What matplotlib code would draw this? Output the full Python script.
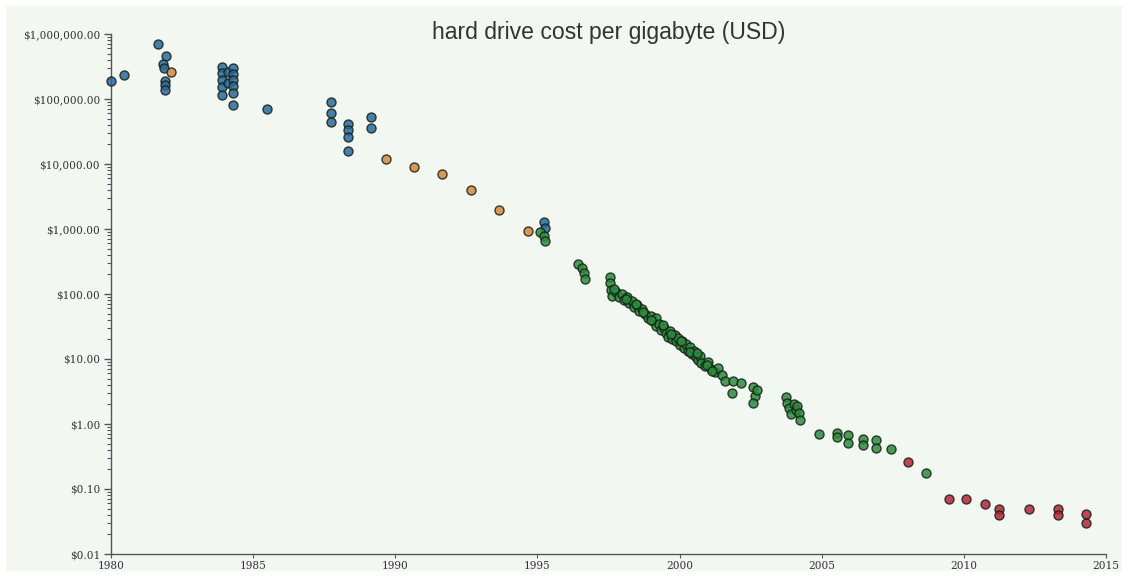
import matplotlib
matplotlib.use("Agg")
import matplotlib.pyplot as plt
from matplotlib.patches import Rectangle
from matplotlib.ticker import FuncFormatter, LogLocator, NullFormatter

# Cost per gigabyte of hard drive storage, grouped by source era
blue_years = [1980.0, 1980.47, 1981.64, 1981.92, 1981.84, 1981.86, 1981.90, 1981.90, 1981.90,
              1983.90, 1983.90, 1983.90, 1983.90, 1983.90, 1984.10, 1984.10,
              1984.30, 1984.30, 1984.30, 1984.30, 1984.30, 1984.30, 1985.48,
              1987.73, 1987.73, 1987.73, 1988.33, 1988.33, 1988.33, 1988.33,
              1989.15, 1989.15, 1995.23, 1995.27]
blue_prices = [190000, 234000, 700000, 460000, 340000, 300000, 190000, 165000, 138000,
               310000, 250000, 196000, 152000, 116000, 260000, 176000,
               300000, 243000, 196000, 158000, 123000, 81000, 70000,
               91000, 60000, 45000, 41000, 33000, 26000, 15800,
               53000, 36000, 1280, 1035]

orange_years = [1982.10, 1989.66, 1990.67, 1991.65, 1992.65, 1993.65, 1994.66]
orange_prices = [257000, 12000, 8900, 6900, 4000, 1950, 935]

green_years = [1995.09, 1995.23, 1995.27,
               1996.43, 1996.57, 1996.64, 1996.67,
               1997.55, 1997.55, 1997.59, 1997.62, 1997.76, 1997.87, 1997.97, 1998.04,
               1998.15, 1998.22, 1998.33, 1998.40, 1998.50, 1998.57, 1998.68, 1998.78,
               1998.89, 1998.99, 1999.06, 1999.17, 1999.17, 1999.28, 1999.35, 1999.45,
               1999.52, 1999.59, 1999.66, 1999.73, 1999.84, 1999.87, 1999.94, 2000.01,
               2000.08, 2000.15, 2000.22, 2000.30, 2000.37, 2000.44, 2000.51, 2000.58,
               2000.65, 2000.72, 2000.75, 2000.90, 2001.00, 2001.10, 2001.25, 2001.36,
               2001.49, 2001.60, 2001.85, 2001.88, 2002.16, 2002.58, 2002.65, 2002.58,
               2002.72,
               1997.70, 1998.10, 1998.45, 1998.72, 1999.00, 1999.40, 1999.70, 2000.05,
               2000.35, 2000.62, 2000.95, 2001.15,
               2003.74, 2003.78, 2003.85, 2003.92, 2004.03, 2004.10, 2004.13, 2004.20,
               2004.24,
               2004.90, 2005.55, 2005.55, 2005.91, 2005.91, 2006.46, 2006.46, 2006.91,
               2006.91, 2007.43, 2008.66]
green_prices = [900, 780, 653,
                290, 250, 210, 170,
                183, 148, 115, 93, 107, 90, 100, 81,
                90, 73, 78, 63, 68, 55, 59, 49,
                43, 46, 38, 43, 32, 35, 28, 30,
                25, 21.8, 27, 20.3, 23.4, 18.9, 21, 16.4,
                18.9, 14.8, 17, 13.3, 15.3, 11.9, 13.3, 10.7,
                9.7, 11.1, 8.7, 7.8, 9.0, 7.0, 6.3, 7.3,
                5.7, 4.6, 3.0, 4.6, 4.3, 3.7, 2.7, 2.1,
                3.3,
                120, 85, 70, 52, 40, 33, 24, 19,
                12.8, 12.5, 8.2, 6.6,
                2.6, 2.1, 1.76, 1.43, 2.0, 1.64, 1.9, 1.48,
                1.15,
                0.695, 0.734, 0.638, 0.678, 0.505, 0.582, 0.475, 0.567,
                0.423, 0.415, 0.178]

red_years = [2008.02, 2009.49, 2010.07, 2010.74, 2011.23, 2011.23, 2012.30,
             2013.30, 2013.30, 2014.28, 2014.28]
red_prices = [0.263, 0.0695, 0.0695, 0.0588, 0.0488, 0.0398, 0.049,
              0.050, 0.040, 0.0412, 0.0303]

title_text = "hard drive cost per gigabyte (USD)"
x_ticks = [1980, 1985, 1990, 1995, 2000, 2005, 2010, 2015]
y_ticks = [0.01, 0.1, 1, 10, 100, 1000, 10000, 100000, 1000000]

W, H = 1136, 577
fig = plt.figure(figsize=(W / 100, H / 100), dpi=100, facecolor="white")
panel_color = "#f2f7f2"
fig.add_artist(Rectangle((6 / W, 6 / H), (1122 - 6) / W, (571 - 6) / H,
                         transform=fig.transFigure, facecolor=panel_color,
                         edgecolor="none", zorder=-10))

left, right, top, bottom = 111, 1106, 34, 554
ax = fig.add_axes([left / W, 1 - bottom / H, (right - left) / W, (bottom - top) / H])
ax.set_facecolor("none")

marker_kw = dict(s=42, edgecolors="#152015", linewidths=1.0, alpha=0.85, zorder=3,
                 clip_on=False)
ax.scatter(blue_years, blue_prices, color="#286a9c", **marker_kw)
ax.scatter(orange_years, orange_prices, color="#d8883a", **marker_kw)
ax.scatter(green_years, green_prices, color="#2b8c3d", **marker_kw)
ax.scatter(red_years, red_prices, color="#b52539", **marker_kw)

ax.set_yscale("log")
ax.set_xlim(1980, 2015)
ax.set_ylim(0.01, 1000000)

ax.set_xticks(x_ticks)
ax.set_xticklabels([str(v) for v in x_ticks])
ax.set_yticks(y_ticks)
ax.yaxis.set_major_formatter(FuncFormatter(lambda v, p: f"${v:,.2f}"))
ax.yaxis.set_minor_locator(LogLocator(base=10, subs=range(2, 10), numticks=20))
ax.yaxis.set_minor_formatter(NullFormatter())

for side in ("top", "right"):
    ax.spines[side].set_visible(False)
for side in ("left", "bottom"):
    ax.spines[side].set_color("#555555")
    ax.spines[side].set_linewidth(1.0)

ax.tick_params(axis="y", which="major", length=5, width=1.0, color="#555555",
               labelsize=7.6, labelcolor="#333333", pad=3)
ax.tick_params(axis="y", which="minor", length=3, width=0.8, color="#555555")
ax.tick_params(axis="x", which="major", length=3, width=0.8, color="#555555",
               labelsize=7.6, labelcolor="#333333", pad=2)
for lbl in ax.get_xticklabels() + ax.get_yticklabels():
    lbl.set_family("DejaVu Serif")

fig.text((left + right) / 2 / W, 1 - 33 / H, title_text, ha="center", va="center",
         fontsize=16.6, color="#333333", family="Liberation Sans")

fig.savefig("out.png", dpi=100, facecolor=fig.get_facecolor())
